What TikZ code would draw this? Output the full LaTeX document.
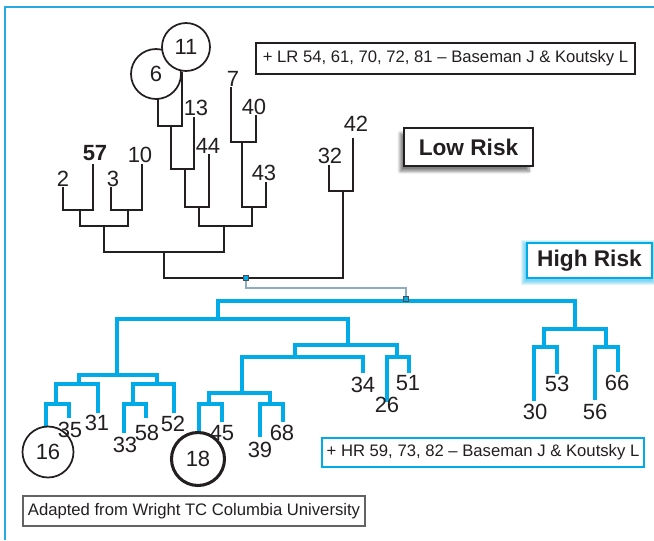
\documentclass[tikz,border=0pt]{standalone}
\usepackage{fontspec}
\setmainfont{Liberation Sans}
\usetikzlibrary{shadows.blur,calc}
\definecolor{hrblue}{RGB}{0,171,232}
\definecolor{linkgray}{RGB}{140,172,192}
\definecolor{framebl}{RGB}{40,170,225}
\definecolor{ink}{RGB}{35,31,32}
\begin{document}
\begin{tikzpicture}[x=0.75pt,y=-0.75pt,
  lrline/.style={draw=ink, line width=2.1pt},
  hrline/.style={draw=hrblue, line width=2.4pt},
  linkline/.style={draw=linkgray, line width=2pt},
  num/.style={font=\fontsize{16.5}{17}\selectfont, inner sep=0pt, text=ink},
  sq/.style={draw=ink!80, line width=0.5pt, fill=hrblue, minimum size=4pt, inner sep=0pt},
  note/.style={draw=ink, line width=1pt, font=\fontsize{12.5}{14}\selectfont, text=ink, inner sep=0pt, fill=white},
  risk/.style={line width=1.5pt, font=\bfseries\fontsize{17}{19}\selectfont, text=ink, inner sep=0pt, fill=white},
  glow/.style={fill=hrblue, fill opacity=0.13, draw=none}
]
\useasboundingbox (0,0) rectangle (654,540);
% frame
\draw[framebl, line width=1pt] (5,540) -- (5,7) -- (654,7);

% ---------- low-risk tree: leaves ----------
\coordinate (L2) at (63,187);
\coordinate (L57) at (93,164);
\coordinate (L3) at (111,187);
\coordinate (L10) at (142,164);
\coordinate (L6) at (158,98);
\coordinate (L11) at (182,72);
\coordinate (L13) at (194,117);
\coordinate (L44) at (209,154);
\coordinate (L7) at (231,87);
\coordinate (L40) at (256,115);
\coordinate (L43) at (266,182);
\coordinate (L32) at (329,165);
\coordinate (L42) at (353,138);
% internal
\coordinate (a1) at (80,210);
\coordinate (a2) at (128,210);
\coordinate (a3) at (104,226);
\coordinate (b1) at (171,126);
\coordinate (b2) at (185,169);
\coordinate (b3) at (199,207);
\coordinate (c1) at (242,142);
\coordinate (c2) at (252,207);
\coordinate (b4) at (224,226);
\coordinate (d1) at (164,252);
\coordinate (e1) at (343,191);
\coordinate (lrroot) at (246,278);

\draw[lrline] (L2) |- (a1);  \draw[lrline] (L57) |- (a1);
\draw[lrline] (L3) |- (a2);  \draw[lrline] (L10) |- (a2);
\draw[lrline] (a1) |- (a3);  \draw[lrline] (a2) |- (a3);
\draw[lrline] (L6) |- (b1);  \draw[lrline] (L11) |- (b1);
\draw[lrline] (b1) |- (b2);  \draw[lrline] (L13) |- (b2);
\draw[lrline] (b2) |- (b3);  \draw[lrline] (L44) |- (b3);
\draw[lrline] (L7) |- (c1);  \draw[lrline] (L40) |- (c1);
\draw[lrline] (c1) |- (c2);  \draw[lrline] (L43) |- (c2);
\draw[lrline] (b3) |- (b4);  \draw[lrline] (c2) |- (b4);
\draw[lrline] (a3) |- (d1);  \draw[lrline] (b4) |- (d1);
\draw[lrline] (L32) |- (e1); \draw[lrline] (L42) |- (e1);
\draw[lrline] (d1) |- (lrroot); \draw[lrline] (e1) |- (lrroot);

% circles 6 and 11
\node[draw=ink, line width=1.3pt, fill=white, circle, minimum size=50*0.75pt, inner sep=0pt, num] (c6) at (156,74) {6};
\node[draw=ink, line width=1.3pt, fill=white, circle, minimum size=48*0.75pt, inner sep=0pt, num] (c11) at (186,47) {11};

% labels
\node[num] (t2) at (63,179) {2};
\node[num, font=\bfseries\fontsize{16.5}{17}\selectfont] (t57) at (95,153) {57};
\node[num] (t3) at (113,179) {3};
\node[num] (t10) at (140,155) {10};
\node[num] (t13) at (196,108) {13};
\node[num] (t44) at (208,146) {44};
\node[num] (t7) at (233,79) {7};
\node[num] (t40) at (254,107) {40};
\node[num] (t43) at (264,173) {43};
\node[num] (t32) at (330,156) {32};
\node[num] (t42) at (356,124) {42};

% ---------- high-risk tree ----------
\coordinate (hrroot) at (406,301);
\coordinate (link1) at (246,288);
\draw[linkline] (lrroot) -- (link1) -| (hrroot);

\coordinate (h1) at (218,319);
\coordinate (h2) at (575,329);
\coordinate (h3) at (117,375);
\coordinate (h4) at (348,345);
\coordinate (h5) at (79,384);
\coordinate (h6) at (157,384);
\coordinate (h7) at (56,404);
\coordinate (h8) at (133,404);
\coordinate (h9) at (295,357);
\coordinate (h10) at (397,357);
\coordinate (h11) at (242,393);
\coordinate (h12) at (209,404);
\coordinate (h13) at (270,404);
\coordinate (h14) at (544,347);
\coordinate (h15) at (606,347);
\coordinate (H16) at (46,427);
\coordinate (H35) at (69,418);
\coordinate (H31) at (98,413);
\coordinate (H33) at (124,433);
\coordinate (H58) at (146,418);
\coordinate (H52) at (174,413);
\coordinate (H18) at (199,433);
\coordinate (H45) at (222,422);
\coordinate (H39) at (260,437);
\coordinate (H68) at (283,422);
\coordinate (H34) at (363,373);
\coordinate (H26) at (387,402);
\coordinate (H51) at (409,373);
\coordinate (H30) at (534,401);
\coordinate (H53) at (557,374);
\coordinate (H56) at (595,400);
\coordinate (H66) at (618,372);

\draw[hrline] (h1) |- (hrroot);  \draw[hrline] (h2) |- (hrroot);
\draw[hrline] (h3) |- (h1);  \draw[hrline] (h4) |- (h1);
\draw[hrline] (h5) |- (h3);  \draw[hrline] (h6) |- (h3);
\draw[hrline] (h7) |- (h5);  \draw[hrline] (H31) |- (h5);
\draw[hrline] (H16) |- (h7); \draw[hrline] (H35) |- (h7);
\draw[hrline] (h8) |- (h6);  \draw[hrline] (H52) |- (h6);
\draw[hrline] (H33) |- (h8); \draw[hrline] (H58) |- (h8);
\draw[hrline] (h9) |- (h4);  \draw[hrline] (h10) |- (h4);
\draw[hrline] (h11) |- (h9); \draw[hrline] (H34) |- (h9);
\draw[hrline] (h12) |- (h11); \draw[hrline] (h13) |- (h11);
\draw[hrline] (H18) |- (h12); \draw[hrline] (H45) |- (h12);
\draw[hrline] (H39) |- (h13); \draw[hrline] (H68) |- (h13);
\draw[hrline] (H26) |- (h10); \draw[hrline] (H51) |- (h10);
\draw[hrline] (h14) |- (h2); \draw[hrline] (h15) |- (h2);
\draw[hrline] (H30) |- (h14); \draw[hrline] (H53) |- (h14);
\draw[hrline] (H56) |- (h15); \draw[hrline] (H66) |- (h15);

\node[sq] (sqA) at (lrroot) {};
\node[sq] (sqB) at ($(hrroot)+(0,-2)$) {};

% circles 16 and 18
\node[draw=ink, line width=1.3pt, circle, minimum size=51*0.75pt, inner sep=0pt, num] (c16) at (48,452) {16};
\node[draw=ink, line width=2.3pt, circle, minimum size=53*0.75pt, inner sep=0pt, num] (c18) at (198,459) {18};

\node[num] (t35) at (70,430) {35};
\node[num] (t31) at (97,423) {31};
\node[num] (t33) at (125,445) {33};
\node[num] (t58) at (147,433) {58};
\node[num] (t52) at (173,424) {52};
\node[num] (t45) at (222,433) {45};
\node[num] (t39) at (260,450) {39};
\node[num] (t68) at (282,433) {68};
\node[num] (t34) at (363,385) {34};
\node[num] (t26) at (387,405) {26};
\node[num] (t51) at (408,383) {51};
\node[num] (t53) at (557,384) {53};
\node[num] (t30) at (535,412) {30};
\node[num] (t66) at (617,383) {66};
\node[num] (t56) at (595,412) {56};

% ---------- boxes ----------
\node[note, minimum width=379*0.75pt, minimum height=31*0.75pt] (lrnote) at (445.5,58.5) {+ LR 54, 61, 70, 72, 81 – Baseman J \& Koutsky L};
\node[risk, draw=ink, minimum width=129*0.75pt, minimum height=38*0.75pt,
  blur shadow={shadow xshift=-3pt, shadow yshift=-4pt, shadow blur steps=8, shadow opacity=50}] (lowrisk) at (468.5,147) {Low Risk};
% glow behind High Risk
\foreach \g in {1,2,3,4,5} {
  \fill[glow] (527-\g-1.5,243-\g+1.5) rectangle (652+\g-1.5,278+\g+1.5);
}
\node[risk, draw=hrblue, minimum width=125*0.75pt, minimum height=35*0.75pt] (highrisk) at (589.5,260.5) {High Risk};
\node[note, draw=hrblue, minimum width=322*0.75pt, minimum height=29*0.75pt] (hrnote) at (483,452.5) {+ HR 59, 73, 82 – Baseman J \& Koutsky L};
\node[note, draw=ink!70, minimum width=342*0.75pt, minimum height=30*0.75pt] (adapted) at (194,511) {Adapted from Wright TC Columbia University};
\end{tikzpicture}
\end{document}
